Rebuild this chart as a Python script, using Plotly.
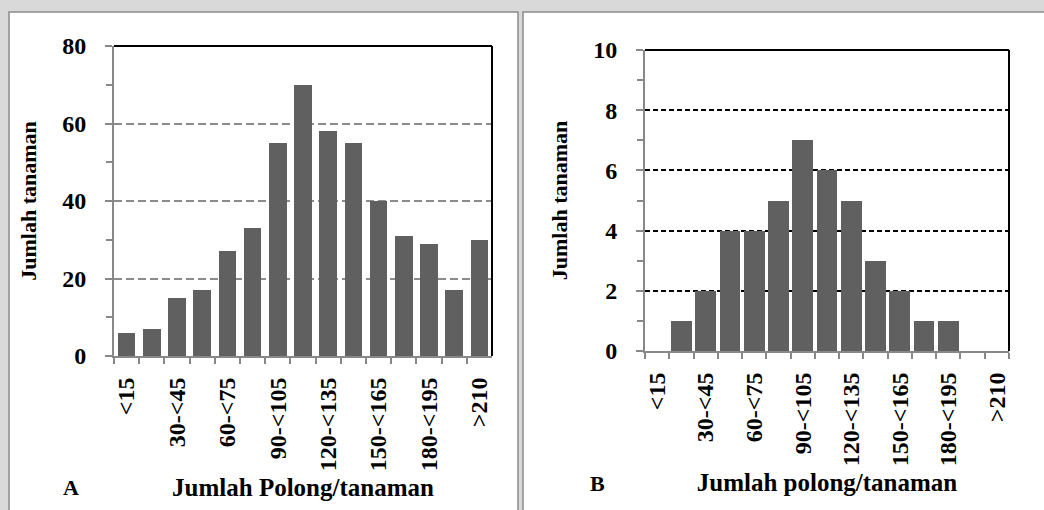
import plotly.graph_objects as go

# ---- data ----
categories = ["<15", "15-<30", "30-<45", "45-<60", "60-<75", "75-<90", "90-<105",
              "105-<120", "120-<135", "135-<150", "150-<165", "165-<180",
              "180-<195", "195-<210", ">210"]
tick_labels = ["<15", "", "30-<45", "", "60-<75", "", "90-<105", "",
               "120-<135", "", "150-<165", "", "180-<195", "", ">210"]
values_a = [6, 7, 15, 17, 27, 33, 55, 70, 58, 55, 40, 31, 29, 17, 30]
values_b = [0, 1, 2, 4, 4, 5, 7, 6, 5, 3, 2, 1, 1, 0, 0]
y_title = "Jumlah tanaman"
x_title_a = "Jumlah Polong/tanaman"
x_title_b = "Jumlah polong/tanaman"

W, H = 1044, 510
FONT = "Liberation Serif"
BAR = "#606060"
AXC = "#888888"


def px_x(v):
    return v / W


def px_y(v):
    return 1 - v / H


fig = go.Figure()
fig.add_trace(go.Bar(x=categories, y=values_a, marker=dict(color=BAR, line=dict(width=0)),
                     width=0.7, xaxis="x", yaxis="y", showlegend=False))
fig.add_trace(go.Bar(x=categories, y=values_b, marker=dict(color=BAR, line=dict(width=0)),
                     width=0.85, xaxis="x2", yaxis="y2", showlegend=False))

tickfont = dict(family=FONT, size=24, color="black", weight="bold")
titlefont = dict(family=FONT, size=22, color="black", weight="bold")
xtitlefont = dict(family=FONT, size=25, color="black", weight="bold")


def xaxis_cfg(domain, anchor, title):
    return dict(
        domain=domain, anchor=anchor, type="category", range=[-0.5, 14.5],
        tickmode="array", tickvals=categories, ticktext=tick_labels,
        tickson="boundaries", ticks="outside", ticklen=6, tickwidth=1.5, tickcolor=AXC,
        tickangle=-90, tickfont=tickfont, ticklabelstandoff=10,
        showline=True, linecolor=AXC, linewidth=2, showgrid=False, zeroline=False,
        automargin=False, fixedrange=True,
        title=dict(text=title, font=xtitlefont, standoff=8),
    )


def yaxis_cfg(domain, anchor, rng, dtick, gridcolor, griddash, title):
    return dict(
        domain=domain, anchor=anchor, range=rng, dtick=dtick, tick0=0,
        ticks="outside", ticklen=7, tickwidth=1.5, tickcolor=AXC,
        minor=dict(dtick=dtick / 2, tick0=0, ticks="outside", ticklen=6,
                   tickwidth=1.5, tickcolor=AXC, showgrid=False),
        tickfont=tickfont, ticklabelstandoff=14,
        showline=True, linecolor=AXC, linewidth=2,
        showgrid=True, gridcolor=gridcolor, griddash=griddash, gridwidth=1.5,
        zeroline=False, automargin=False, fixedrange=True,
        title=dict(text=title, font=titlefont, standoff=20),
    )


fig.update_layout(
    width=W, height=H,
    margin=dict(l=0, r=0, t=0, b=0),
    paper_bgcolor="#d9d9d9",
    plot_bgcolor="rgba(0,0,0,0)",
    bargap=0,
    xaxis=xaxis_cfg([px_x(114), px_x(492)], "y", x_title_a),
    yaxis=yaxis_cfg([px_y(356), px_y(46)], "x", [0, 80], 20, "#8c8c8c", "8px,4px", y_title),
    xaxis2=xaxis_cfg([px_x(645), px_x(1009)], "y2", x_title_b),
    yaxis2=yaxis_cfg([px_y(351), px_y(50)], "x2", [0, 10], 2, "black", "5px,3px", y_title),
)

shapes = [
    # panel backgrounds
    dict(type="rect", xref="paper", yref="paper", x0=px_x(9), x1=px_x(518), y0=-0.05, y1=px_y(12),
         fillcolor="white", line=dict(color="#8a8a8a", width=1.5), layer="below"),
    dict(type="rect", xref="paper", yref="paper", x0=px_x(523), x1=1.05, y0=-0.05, y1=px_y(12),
         fillcolor="white", line=dict(color="#8a8a8a", width=1.5), layer="below"),
]
for xr, yr in (("x", "y"), ("x2", "y2")):
    shapes.append(dict(type="line", xref=xr + " domain", yref=yr + " domain", x0=0, x1=1, y0=1, y1=1,
                       line=dict(color="black", width=2), layer="above"))
    shapes.append(dict(type="line", xref=xr + " domain", yref=yr + " domain", x0=1, x1=1, y0=0, y1=1,
                       line=dict(color="black", width=2), layer="above"))
fig.update_layout(shapes=shapes)

fig.add_annotation(text="A", xref="paper", yref="paper", x=px_x(71), y=px_y(487),
                   xanchor="center", yanchor="middle", showarrow=False,
                   font=dict(family=FONT, size=22, color="black", weight="bold"))
fig.add_annotation(text="B", xref="paper", yref="paper", x=px_x(597), y=px_y(483),
                   xanchor="center", yanchor="middle", showarrow=False,
                   font=dict(family=FONT, size=22, color="black", weight="bold"))

fig.write_html("out.html", config={"displayModeBar": False},
               post_script="document.body.style.margin='0';")
